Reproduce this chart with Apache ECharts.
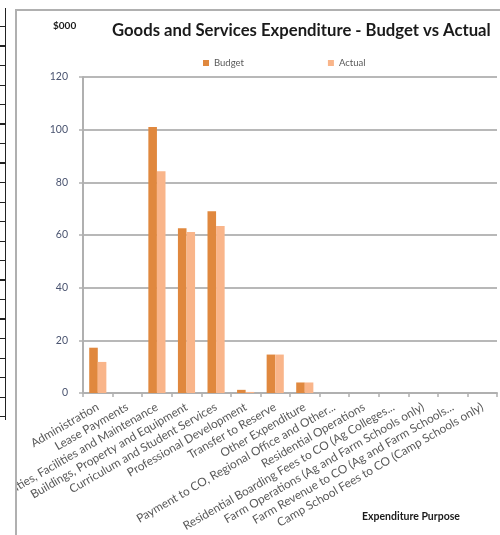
<!DOCTYPE html>
<html>
<head>
<meta charset="utf-8">
<script src="https://cdn.jsdelivr.net/npm/echarts@6/dist/echarts.min.js"></script>
<style>
  html, body { margin: 0; padding: 0; width: 500px; height: 535px; overflow: hidden; background: #fff; }
  #strip { position: absolute; left: 0; top: 8px; width: 5px; height: 412px;
    border-right: 1.5px solid #222;
    background: repeating-linear-gradient(to bottom, transparent 0px, transparent 18px, #222 18px, #222 19.5px); }
  #frame { position: absolute; left: 15px; top: 9px; width: 485px; height: 526px;
    border-left: 2px solid #b0b0b0; border-top: 2px solid #b0b0b0; }
  #chart { position: absolute; left: 17px; top: 11px; width: 483px; height: 524px; }
</style>
</head>
<body>
<div id="strip"></div>
<div id="frame"></div>
<div id="chart"></div>
<script>
const categories = [
  'Administration',
  'Lease Payments',
  'Utilities, Facilities and Maintenance',
  'Buildings, Property and Equipment',
  'Curriculum and Student Services',
  'Professional Development',
  'Transfer to Reserve',
  'Other Expenditure',
  'Payment to CO, Regional Office and Other...',
  'Residential Operations',
  'Residential Boarding Fees to CO (Ag Colleges...',
  'Farm Operations (Ag and Farm Schools only)',
  'Farm Revenue to CO (Ag and Farm Schools...',
  'Camp School Fees to CO (Camp Schools only)'
];
const budget = [17.2, 0, 101, 62.6, 69, 1.2, 14.6, 4.0, 0, 0, 0, 0, 0, 0];
const actual = [11.8, 0, 84.2, 61.1, 63.4, 0.4, 14.6, 4.0, 0, 0, 0, 0, 0, 0];
const yTicks = { min: 0, max: 120, interval: 20 };

const chart = echarts.init(document.getElementById('chart'));
chart.setOption({
  animation: false,
  textStyle: { fontFamily: 'Lato' },
  title: {
    text: 'Goods and Services Expenditure - Budget vs Actual',
    left: 90, top: 6,
    textStyle: { fontFamily: 'Lato', fontSize: 16.7, fontWeight: 'bold', color: '#1a1a1a' }
  },
  legend: {
    left: 181, top: 42,
    itemWidth: 6, itemHeight: 6, itemGap: 84,
    icon: 'rect',
    textStyle: { fontSize: 9.5, color: '#595959', fontFamily: 'Lato' },
    data: ['Budget', 'Actual']
  },
  graphic: [
    { type: 'text', left: 36, top: 10, style: { text: '$000', fontSize: 10, fontWeight: 'bold', fill: '#1a1a1a', fontFamily: 'Lato' } },
    { type: 'text', left: 345, top: 500, style: { text: 'Expenditure Purpose', fontSize: 10.5, fontWeight: 'bold', fill: '#1a1a1a', fontFamily: 'Lato' } }
  ],
  grid: { left: 66, right: 3, top: 66, bottom: 142, containLabel: false, outerBoundsMode: 'none' },
  xAxis: {
    type: 'category',
    data: categories,
    axisLine: { lineStyle: { color: '#b0b0b0', width: 2 } },
    axisTick: { show: true, length: 4, lineStyle: { color: '#b0b0b0', width: 1.5 } },
    axisLabel: { rotate: 30, interval: 0, fontSize: 11.8, color: '#595959', margin: 13, fontFamily: 'Lato' }
  },
  yAxis: {
    type: 'value',
    min: yTicks.min, max: yTicks.max, interval: yTicks.interval,
    axisLine: { show: true, lineStyle: { color: '#b0b0b0', width: 2 } },
    axisTick: { show: true, length: 4, lineStyle: { color: '#b0b0b0', width: 1.5 } },
    splitLine: { lineStyle: { color: '#b8b8b8', width: 2 } },
    axisLabel: { fontSize: 10.5, color: '#4a5470', margin: 15, fontFamily: 'Lato' }
  },
  series: [
    { name: 'Budget', type: 'bar', data: budget, barGap: '0%', barCategoryGap: '42%', itemStyle: { color: '#E0883E' } },
    { name: 'Actual', type: 'bar', data: actual, itemStyle: { color: '#F9B58A' } }
  ]
});
</script>
</body>
</html>
